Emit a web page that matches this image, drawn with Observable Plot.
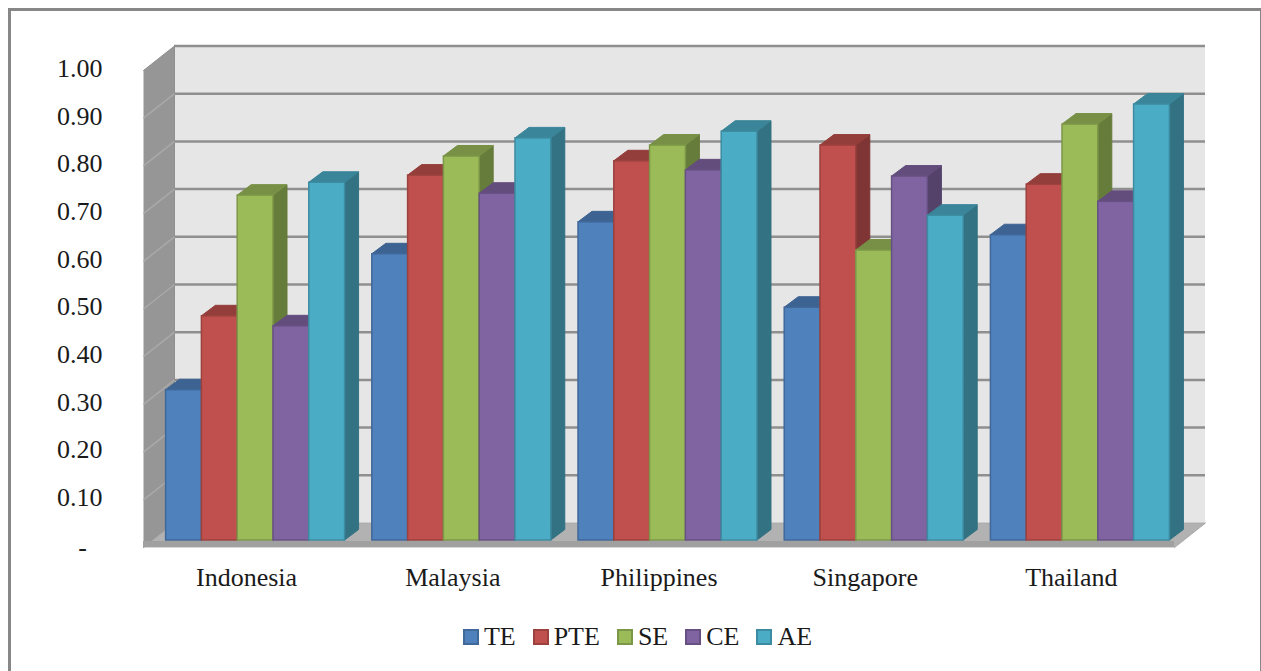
<!DOCTYPE html>
<html>
<head>
<meta charset="utf-8">
<script src="https://cdn.jsdelivr.net/npm/d3@7"></script>
<script src="https://cdn.jsdelivr.net/npm/@observablehq/plot@0.6"></script>
<style>
  html, body { margin: 0; padding: 0; background: #fff; }
  #page { position: relative; width: 1261px; height: 671px; overflow: hidden; font-family: "Liberation Serif", serif; color: #1a1a1a; }
  #frame { position: absolute; left: 8px; top: 8px; width: 1249px; height: 700px; border: 3px solid #878787; pointer-events: none; }
  #chart { position: absolute; left: 0; top: 0; }
  #legend { position: absolute; left: 7px; top: 622px; width: 1261px; display: flex; justify-content: center; align-items: center; font-size: 26px; line-height: 30px; }
  #legend span.item { display: inline-flex; align-items: center; margin: 0 8.5px; }
  #legend i { display: inline-block; width: 12px; height: 12px; border: 2px solid; margin-right: 5px; }
</style>
</head>
<body>
<div id="page">
  <div id="chart"></div>
  <div id="frame"></div>
  <div id="legend"></div>
</div>
<script>
const countries = ["Indonesia", "Malaysia", "Philippines", "Singapore", "Thailand"];
const series = ["TE", "PTE", "SE", "CE", "AE"];
const colors = ["#4f81bd", "#c0504d", "#9bbb59", "#8064a2", "#4bacc6"];
const TE = [0.315, 0.600, 0.667, 0.488, 0.640];
const PTE = [0.470, 0.765, 0.795, 0.828, 0.746];
const SE = [0.723, 0.805, 0.828, 0.608, 0.872];
const CE = [0.449, 0.727, 0.776, 0.763, 0.710];
const AE = [0.750, 0.843, 0.857, 0.681, 0.914];
const yTicks = [0.1, 0.2, 0.3, 0.4, 0.5, 0.6, 0.7, 0.8, 0.9, 1.0];

const columns = [TE, PTE, SE, CE, AE];
const bars = countries.flatMap((country, g) =>
  series.map((name, s) => ({country, g, name, s, value: columns[s][g]}))
);

// Layout of the box: the wall depth expressed in x and y scale units.
const marginLeft = 143, marginRight = 87, marginTop = 70, marginBottom = 63;
const plotW = 1261 - marginLeft - marginRight;
const plotH = 610 - marginTop - marginBottom;
const depthX = 31 / (plotW / 5);
const depthY = 24.5 / plotH;
const barW = 0.1736;
const barStart = 0.5 - 2.5 * barW;

// Adds the extruded side and top of each bar just behind its front face,
// so later bars paint over earlier ones from left to right.
function extrude(index, scales, values, dimensions, context, next) {
  const g = next(index, scales, values, dimensions, context);
  const ns = "http://www.w3.org/2000/svg";
  const ex = 14, ey = 10.5;
  g.querySelectorAll("rect").forEach((rect) => {
    const x = +rect.getAttribute("x"), y = +rect.getAttribute("y");
    const w = +rect.getAttribute("width"), h = +rect.getAttribute("height");
    const fill = rect.getAttribute("fill");
    const faces = [
      {k: 1.16, pts: [[x + w, y], [x + w + ex, y - ey], [x + w + ex, y + h - ey], [x + w, y + h]]},
      {k: 0.73, pts: [[x, y], [x + ex, y - ey], [x + w + ex, y - ey], [x + w, y]]}
    ];
    for (const face of faces) {
      const p = document.createElementNS(ns, "polygon");
      const c = d3.rgb(fill).darker(face.k).formatHex();
      p.setAttribute("points", face.pts.map((q) => q.join(",")).join(" "));
      p.setAttribute("fill", c);
      p.setAttribute("stroke", c);
      p.setAttribute("stroke-width", "1");
      p.setAttribute("stroke-linejoin", "round");
      rect.parentNode.insertBefore(p, rect);
    }
    rect.setAttribute("stroke", d3.rgb(fill).darker(0.6).formatHex());
    rect.setAttribute("stroke-width", "1.5");
  });
  return g;
}

const sideWall = [
  {x: 0, y: 0}, {x: depthX, y: depthY}, {x: depthX, y: 1 + depthY}, {x: 0, y: 1}
];
const floor = [
  {x: 0, y: 0}, {x: depthX, y: depthY}, {x: 5 + depthX, y: depthY}, {x: 5, y: 0}
];

const plot = Plot.plot({
  width: 1261,
  height: 610,
  marginLeft, marginRight, marginTop, marginBottom,
  x: {domain: [0, 5], axis: null},
  y: {domain: [0, 1], axis: null},
  color: {domain: series, range: colors},
  style: {
    fontFamily: "'Liberation Serif', serif",
    fontSize: "26px",
    color: "#1a1a1a",
    background: "transparent",
    overflow: "visible"
  },
  marks: [
    // Back wall and its gridlines
    Plot.rect([0], {x1: depthX, x2: 5 + depthX, y1: depthY, y2: 1 + depthY, fill: "#e6e6e6"}),
    Plot.ruleY(yTicks, {y: (d) => d + depthY, x1: depthX, x2: 5 + depthX, stroke: "#8f8f8f", strokeWidth: 2.5}),
    // Left wall with its slanted gridlines
    Plot.line(sideWall, {x: "x", y: "y", fill: "#969696", stroke: "#8f8f8f", strokeWidth: 1}),
    Plot.link(yTicks.slice(0, -1), {x1: 0, y1: (d) => d, x2: depthX, y2: (d) => d + depthY, stroke: "#a9a9a9", strokeWidth: 1.5}),
    // Floor slab
    Plot.line(floor, {x: "x", y: "y", fill: "#b2b2b2", stroke: "#a8a8a8", strokeWidth: 1}),
    Plot.rect([0], {x1: 0, x2: 5, y1: 0, y2: 6 / plotH, fill: "#a0a0a0"}),
    // Bars
    Plot.rectY(bars, {
      x1: (d) => d.g + barStart + d.s * barW,
      x2: (d) => d.g + barStart + (d.s + 1) * barW,
      y1: 0,
      y2: "value",
      fill: "name",
      dx: 9,
      dy: -7,
      render: extrude
    }),
    // Axes
    Plot.axisY(yTicks, {
      anchor: "left",
      tickSize: 0,
      tickPadding: 41,
      dy: -2,
      tickFormat: (d) => d.toFixed(2),
      label: null
    }),
    Plot.text([0], {x: 0, y: 0, text: () => "-", textAnchor: "middle", dx: -61}),
    Plot.axisX(countries.map((_, i) => i + 0.5), {
      anchor: "bottom",
      tickSize: 0,
      tickPadding: 20,
      tickFormat: (d) => countries[d - 0.5],
      label: null
    })
  ]
});
document.getElementById("chart").append(plot);

// Legend row below the chart
const legend = d3.select("#legend");
series.forEach((name, i) => {
  const item = legend.append("span").attr("class", "item");
  item.append("i")
    .style("background", colors[i])
    .style("border-color", d3.rgb(colors[i]).darker(0.6).formatHex());
  item.append("span").text(name);
});
</script>
</body>
</html>
